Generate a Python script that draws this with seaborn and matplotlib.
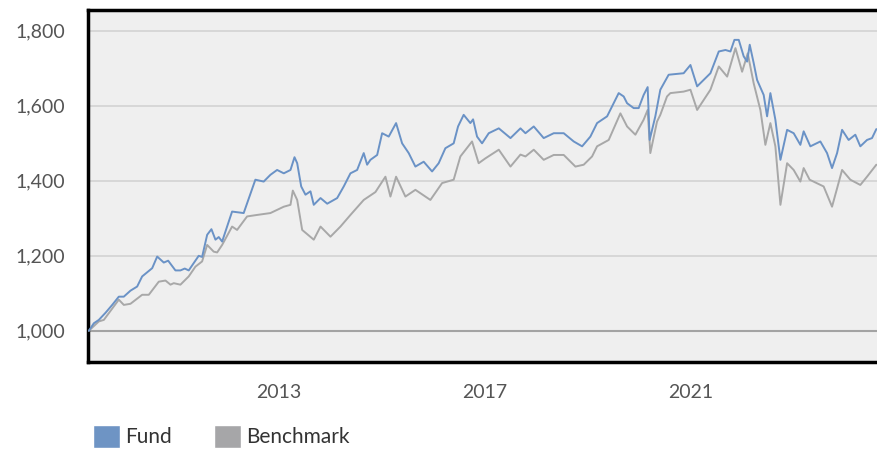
import numpy as np
import pandas as pd
import seaborn as sns
import matplotlib.dates as mdates
from matplotlib import pyplot as plt
from matplotlib.patches import Patch

# decimal years / growth of 1,000
fund_years = [2009.317, 2009.414, 2009.511, 2009.641, 2009.771, 2009.899, 2009.996, 2010.126,
              2010.256, 2010.353, 2010.548, 2010.645, 2010.773, 2010.858, 2011.0, 2011.097,
              2011.181, 2011.258, 2011.452, 2011.518, 2011.616, 2011.699, 2011.777, 2011.841,
              2011.907, 2012.004, 2012.101, 2012.326, 2012.553, 2012.715, 2012.845, 2012.975,
              2013.103, 2013.233, 2013.311, 2013.363, 2013.441, 2013.524, 2013.621, 2013.685,
              2013.816, 2013.946, 2014.140, 2014.268, 2014.398, 2014.528, 2014.656, 2014.722,
              2014.786, 2014.917, 2015.014, 2015.142, 2015.285, 2015.402, 2015.530, 2015.660,
              2015.821, 2015.984, 2016.113, 2016.243, 2016.404, 2016.489, 2016.598, 2016.728,
              2016.781, 2016.858, 2016.955, 2017.083, 2017.278, 2017.505, 2017.699, 2017.796,
              2017.957, 2018.151, 2018.346, 2018.540, 2018.734, 2018.897, 2019.058, 2019.188,
              2019.383, 2019.608, 2019.705, 2019.771, 2019.899, 2019.996, 2020.093, 2020.171,
              2020.210, 2020.320, 2020.417, 2020.579, 2020.870, 2021.0, 2021.130, 2021.388,
              2021.550, 2021.680, 2021.777, 2021.854, 2021.938, 2022.035, 2022.101, 2022.152,
              2022.229, 2022.295, 2022.423, 2022.489, 2022.553, 2022.650, 2022.748, 2022.878,
              2023.006, 2023.136, 2023.200, 2023.330, 2023.524, 2023.654, 2023.751, 2023.849,
              2023.946, 2024.074, 2024.204, 2024.301, 2024.431, 2024.528, 2024.612]
fund_values = [1000, 1020, 1029, 1048, 1069, 1091, 1091, 1107,
               1118, 1145, 1167, 1198, 1182, 1187, 1161, 1161,
               1166, 1161, 1200, 1197, 1256, 1271, 1243, 1250,
               1238, 1278, 1318, 1314, 1403, 1398, 1416, 1429,
               1420, 1429, 1463, 1447, 1385, 1363, 1372, 1336,
               1354, 1339, 1354, 1385, 1420, 1429, 1474, 1443,
               1456, 1469, 1527, 1518, 1554, 1500, 1474, 1438,
               1451, 1425, 1447, 1487, 1500, 1545, 1576, 1554,
               1564, 1518, 1500, 1527, 1540, 1514, 1540, 1527,
               1545, 1514, 1527, 1527, 1505, 1492, 1518, 1554,
               1572, 1634, 1625, 1607, 1594, 1594, 1629, 1650,
               1509, 1572, 1643, 1683, 1687, 1709, 1652, 1687,
               1745, 1749, 1745, 1776, 1776, 1732, 1718, 1763,
               1714, 1669, 1629, 1572, 1634, 1563, 1456, 1536,
               1527, 1496, 1532, 1492, 1505, 1474, 1434, 1474,
               1536, 1509, 1523, 1492, 1509, 1514, 1538]

bench_years = [2009.317, 2009.511, 2009.608, 2009.899, 2009.996, 2010.126, 2010.353, 2010.482,
               2010.676, 2010.806, 2010.903, 2010.967, 2011.097, 2011.258, 2011.388, 2011.518,
               2011.616, 2011.680, 2011.744, 2011.810, 2011.907, 2012.101, 2012.198, 2012.392,
               2012.586, 2012.845, 2013.103, 2013.233, 2013.278, 2013.363, 2013.460, 2013.685,
               2013.816, 2014.010, 2014.204, 2014.398, 2014.656, 2014.883, 2015.078, 2015.175,
               2015.285, 2015.466, 2015.660, 2015.951, 2016.179, 2016.404, 2016.534, 2016.761,
               2016.889, 2017.019, 2017.278, 2017.505, 2017.699, 2017.796, 2017.957, 2018.151,
               2018.346, 2018.540, 2018.767, 2018.928, 2019.091, 2019.188, 2019.414, 2019.641,
               2019.771, 2019.932, 2020.093, 2020.171, 2020.223, 2020.353, 2020.417, 2020.547,
               2020.612, 2020.870, 2021.0, 2021.130, 2021.388, 2021.550, 2021.713, 2021.874,
               2022.004, 2022.113, 2022.229, 2022.359, 2022.456, 2022.553, 2022.650, 2022.748,
               2022.878, 2023.006, 2023.136, 2023.200, 2023.316, 2023.588, 2023.751, 2023.849,
               2023.946, 2024.107, 2024.301, 2024.431, 2024.612]
bench_values = [1000, 1025, 1029, 1083, 1069, 1072, 1096, 1096,
                1131, 1134, 1123, 1127, 1123, 1145, 1171, 1185,
                1229, 1220, 1211, 1209, 1229, 1278, 1269, 1305,
                1309, 1314, 1331, 1336, 1374, 1349, 1269, 1243,
                1278, 1251, 1278, 1309, 1349, 1370, 1411, 1358,
                1411, 1358, 1376, 1349, 1394, 1403, 1465, 1505,
                1447, 1460, 1483, 1438, 1470, 1465, 1483, 1456,
                1469, 1469, 1438, 1443, 1465, 1492, 1509, 1580,
                1545, 1523, 1563, 1589, 1474, 1558, 1576, 1625,
                1634, 1638, 1643, 1589, 1643, 1705, 1678, 1754,
                1691, 1740, 1660, 1589, 1496, 1554, 1492, 1336,
                1447, 1429, 1398, 1434, 1403, 1385, 1331, 1380,
                1429, 1403, 1389, 1411, 1443]

y_ticks = [1000, 1200, 1400, 1600, 1800]
x_tick_years = [2013, 2017, 2021]


def to_date(y):
    yr = int(y)
    return pd.Timestamp(yr, 1, 1) + pd.Timedelta(days=(y - yr) * 365.25)


fund = pd.DataFrame({'date': [to_date(y) for y in fund_years], 'value': fund_values})
bench = pd.DataFrame({'date': [to_date(y) for y in bench_years], 'value': bench_values})

sns.set_style("white", {'axes.facecolor': '#efefef'})
plt.rcParams['font.family'] = ['Lato', 'DejaVu Sans']

fig = plt.figure(figsize=(8.77, 4.49), dpi=100)
ax = fig.add_axes([0.1003, 0.194, 0.9, 0.784])

for t in y_ticks:
    ax.axhline(t, color='#a3a3a3' if t == 1000 else '#d3d3d3', lw=1.5 if t == 1000 else 1.2, zorder=1)

sns.lineplot(data=bench, x='date', y='value', color='#a8a8a8', lw=1.4, ax=ax, zorder=3)
sns.lineplot(data=fund, x='date', y='value', color='#6a92c6', lw=1.4, ax=ax, zorder=4)

ax.set_xlim(to_date(2009.30), to_date(2024.63))
ax.set_ylim(917, 1856)
ax.set_yticks(y_ticks)
ax.set_yticklabels([f'{t:,}' for t in y_ticks])
ax.set_xticks([pd.Timestamp(y, 1, 1) for y in x_tick_years])
ax.xaxis.set_major_formatter(mdates.DateFormatter('%Y'))
ax.set_xlabel('')
ax.set_ylabel('')

for side in ['left', 'bottom', 'top']:
    ax.spines[side].set_color('black')
    ax.spines[side].set_linewidth(2.5)
ax.spines['right'].set_visible(False)
ax.tick_params(axis='both', which='major', direction='out', length=7.2, width=2.5,
               color='black', labelsize=14, labelcolor='#555555')
ax.tick_params(axis='y', pad=9)
ax.tick_params(axis='x', pad=9)

handles = [Patch(facecolor='#6e94c4', label='Fund'), Patch(facecolor='#a6a6a8', label='Benchmark')]
fig.legend(handles=handles, loc='upper left', bbox_to_anchor=(0.106, 1 - 425 / 449), ncol=2,
           frameon=False, fontsize=15, handlelength=1.3, handleheight=1.3,
           handletextpad=0.25, columnspacing=2.0, borderpad=0, borderaxespad=0,
           labelcolor='#333333')

plt.savefig('out.png', dpi=100)
